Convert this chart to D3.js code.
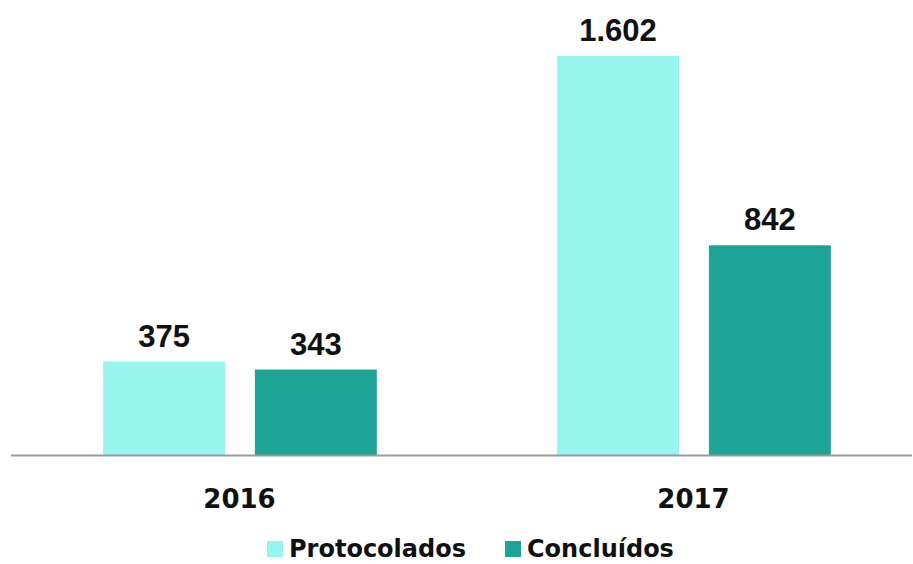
<!DOCTYPE html>
<html>
<head>
<meta charset="utf-8">
<script src="https://cdn.jsdelivr.net/npm/d3@7/dist/d3.min.js"></script>
<style>
  html, body { margin: 0; padding: 0; background: #ffffff; }
  svg { display: block; }
</style>
</head>
<body>
<div id="chart"></div>
<script>
// Chart data
const years = ["2016", "2017"];
const seriesNames = ["Protocolados", "Concluídos"];
const protocolados = [375, 1602];
const concluidos = [343, 842];
const valueLabels = [["375", "1.602"], ["343", "842"]];
const seriesColors = ["#96F5EF", "#1EA397"];

const W = 913, H = 564;
const baseY = 455;

const svg = d3.select("#chart").append("svg")
  .attr("width", W).attr("height", H);

const x0 = d3.scaleBand().domain(years).range([12.5, 920.5]).paddingInner(0).paddingOuter(0);
const bw = x0.bandwidth();
const x1 = d3.scaleBand().domain(seriesNames).range([bw * 0.1995, bw * 0.8025])
  .paddingInner(0.197).paddingOuter(0);
const y = d3.scaleLinear().domain([0, 1602]).range([baseY, 56]);

const seriesValues = [protocolados, concluidos];

const groups = svg.selectAll("g.year").data(years).join("g")
  .attr("class", "year")
  .attr("transform", d => `translate(${x0(d)},0)`);

seriesNames.forEach((s, si) => {
  groups.append("rect")
    .attr("x", x1(s))
    .attr("width", x1.bandwidth())
    .attr("y", (d, i) => y(seriesValues[si][i]))
    .attr("height", (d, i) => baseY - y(seriesValues[si][i]))
    .attr("fill", seriesColors[si]);

  groups.append("text")
    .attr("x", x1(s) + x1.bandwidth() / 2)
    .attr("y", (d, i) => y(seriesValues[si][i]) - 15)
    .attr("text-anchor", "middle")
    .attr("font-family", "'Liberation Sans', Arial, sans-serif")
    .attr("font-weight", "bold")
    .attr("font-size", 31)
    .attr("fill", "#111")
    .text((d, i) => valueLabels[si][i]);
});

// Baseline axis
const xAxis = d3.axisBottom(x0).tickSize(0).tickPadding(30);
const axisG = svg.append("g")
  .attr("transform", `translate(0,${baseY})`)
  .call(xAxis);
axisG.select(".domain").remove();
svg.append("line")
  .attr("x1", 11).attr("x2", 912)
  .attr("y1", baseY + 0.5).attr("y2", baseY + 0.5)
  .attr("stroke", "#9a9a9a").attr("stroke-width", 2);
axisG.selectAll("text")
  .attr("font-family", "'DejaVu Sans', sans-serif")
  .attr("font-weight", "bold")
  .attr("font-size", 26)
  .attr("fill", "#111")
  .attr("dy", null)
  .attr("y", 53);

// Legend
const legendItems = [
  { name: seriesNames[0], color: seriesColors[0], x: 267 },
  { name: seriesNames[1], color: seriesColors[1], x: 505 }
];
const legend = svg.selectAll("g.legend").data(legendItems).join("g")
  .attr("class", "legend")
  .attr("transform", d => `translate(${d.x},0)`);
legend.append("rect")
  .attr("x", 0).attr("y", 541).attr("width", 16).attr("height", 16)
  .attr("fill", d => d.color);
legend.append("text")
  .attr("x", 22).attr("y", 557)
  .attr("font-family", "'DejaVu Sans', sans-serif")
  .attr("font-weight", "bold")
  .attr("font-size", 24)
  .attr("fill", "#111")
  .text(d => d.name);
</script>
</body>
</html>
